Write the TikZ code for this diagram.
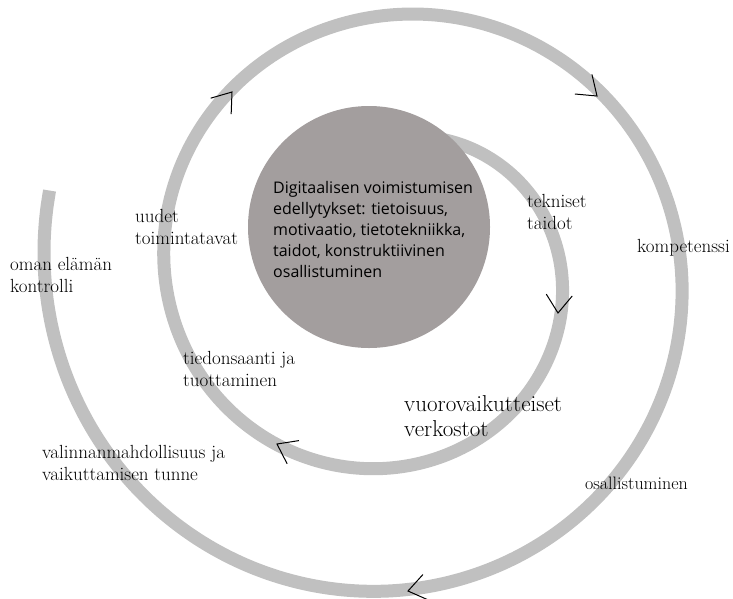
\documentclass[tikz,border=0pt]{standalone}
\usepackage{fontspec}
\newfontfamily\corefont{Open Sans}
\definecolor{stripe}{RGB}{192,192,192}
\definecolor{core}{RGB}{163,158,158}
\tikzset{
  band/.style={draw=stripe, line width=13pt},
  lbl/.style={anchor=west, inner sep=0pt, align=left, text=black,
              font=\fontsize{19}{22}\selectfont},
  chev/.pic={\draw[black, line width=1pt] (-18,13) -- (0,0) -- (-18,-13);}
}
\begin{document}
\begin{tikzpicture}[x=1pt,y=-1pt]
\useasboundingbox (0,0) rectangle (733,598);
% spiral band (Archimedean, clockwise on screen)
\draw[band] plot[domain=-0.5:3.074, samples=240, variable=\t, smooth]
  ({393+(168.5+60*\t)*cos(180*\t)}, {272+(165+61.5*\t)*sin(180*\t)});
% core circle
\node[circle, fill=core, minimum size=242pt, inner sep=0pt] (core) at (369,227) {};
\node[anchor=west, inner sep=0pt, align=left, text=black,
      font=\corefont\fontsize{16}{21}\selectfont] (coretext) at (273,229)
 {Digitaalisen voimistumisen\\edellytykset: tietoisuus,\\motivaatio, tietotekniikka,\\taidot, konstruktiivinen\\osallistuminen};
% labels
\node[lbl] (uudet) at (135,227) {uudet\\toimintatavat};
\node[lbl] (tekn) at (527,212) {tekniset\\taidot};
\node[lbl] (komp) at (637,248) {kompetenssi};
\node[lbl] (oman) at (10,275) {oman elämän\\kontrolli};
\node[lbl] (tied) at (183,369) {tiedonsaanti ja\\tuottaminen};
\node[lbl, font=\fontsize{23}{25}\selectfont] (vuoro) at (404,416) {vuorovaikutteiset\\verkostot};
\node[lbl] (valin) at (42,463) {valinnanmahdollisuus ja\\vaikuttamisen tunne};
\node[lbl, font=\fontsize{18}{21}\selectfont] (osal) at (585,483) {osallistuminen};
% direction marks
\coordinate (t1) at (558,313);
\coordinate (t2) at (277,444);
\coordinate (t3) at (232,92);
\coordinate (t4) at (597,96);
\coordinate (t5) at (408,591);
\pic[rotate=-94] at (t1) {chev};
\pic[rotate=153] at (t2) {chev};
\pic[rotate=52] at (t3) {chev};
\pic[rotate=-41] at (t4) {chev};
\pic[rotate=192] at (t5) {chev};
\end{tikzpicture}
\end{document}
